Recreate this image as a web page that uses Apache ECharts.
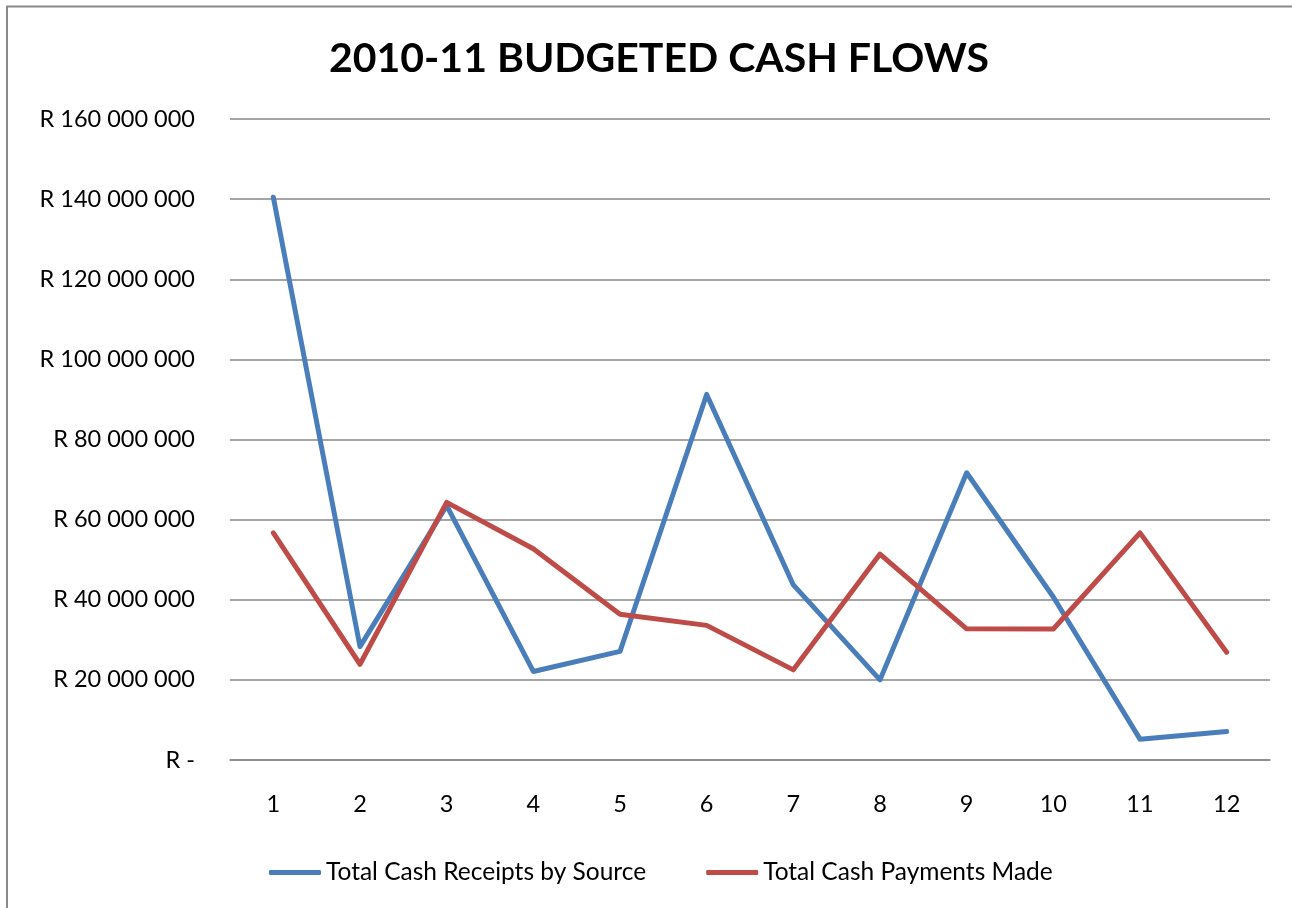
<!DOCTYPE html>
<html>
<head>
<meta charset="utf-8">
<title>2010-11 Budgeted Cash Flows</title>
<script src="https://cdn.jsdelivr.net/npm/echarts@6/dist/echarts.min.js"></script>
<style>
  html, body { margin: 0; padding: 0; background: #ffffff; }
  #chart { width: 1292px; height: 908px; }
</style>
</head>
<body>
<div id="chart"></div>
<script>
// Months of the 2010-11 budget year
const months = ['1', '2', '3', '4', '5', '6', '7', '8', '9', '10', '11', '12'];

// Total cash receipts by source (Rand)
const cashReceipts = [140450000, 28300000, 63500000, 22100000, 27100000, 91250000,
                      43700000, 20000000, 71700000, 40700000, 5200000, 7100000];

// Total cash payments made (Rand)
const cashPayments = [56700000, 23900000, 64300000, 52750000, 36400000, 33600000,
                      22500000, 51400000, 32750000, 32700000, 56700000, 26900000];

// Value axis range and step
const yMin = 0;
const yMax = 160000000;
const yStep = 20000000;

const FONT = 'Lato, "Open Sans", sans-serif';

function randLabel(v) {
  if (v === 0) return 'R -';
  return 'R ' + String(Math.round(v)).replace(/\B(?=(\d{3})+(?!\d))/g, ' ');
}

const chart = echarts.init(document.getElementById('chart'), null, { renderer: 'canvas' });

chart.setOption({
  backgroundColor: '#ffffff',
  animation: false,
  graphic: [
    {
      type: 'polyline',
      shape: { points: [[7, 908], [7, 6.5], [1292, 6.5]] },
      style: { stroke: '#8a8a8a', lineWidth: 2, fill: null },
      silent: true
    }
  ],
  title: {
    text: '2010-11 BUDGETED CASH FLOWS',
    left: 654,
    top: 33,
    textAlign: 'center',
    textStyle: { fontFamily: FONT, fontWeight: 'bold', fontSize: 41, color: '#000000' }
  },
  grid: { left: 230, right: 22, top: 119, bottom: 148, containLabel: false },
  legend: {
    bottom: 18,
    left: 264,
    itemWidth: 52,
    itemHeight: 5,
    itemGap: 60,
    icon: 'roundRect',
    textStyle: { fontFamily: FONT, fontSize: 24.5, color: '#000000' },
    data: ['Total Cash Receipts by Source', 'Total Cash Payments Made']
  },
  xAxis: {
    type: 'category',
    data: months,
    boundaryGap: true,
    axisLine: { show: true, lineStyle: { color: '#878787', width: 1.5 } },
    axisTick: { show: false },
    axisLabel: { fontFamily: FONT, fontSize: 23.5, color: '#000000', margin: 32 },
    splitLine: { show: false }
  },
  yAxis: {
    type: 'value',
    min: yMin,
    max: yMax,
    interval: yStep,
    axisLine: { show: false },
    axisTick: { show: false },
    axisLabel: { fontFamily: FONT, fontSize: 23.5, color: '#000000', margin: 35, formatter: randLabel },
    splitLine: { show: true, lineStyle: { color: '#878787', width: 1.5 } }
  },
  series: [
    {
      name: 'Total Cash Receipts by Source',
      type: 'line',
      data: cashReceipts,
      symbol: 'none',
      color: '#4a7ebb',
      lineStyle: { color: '#4a7ebb', width: 5, cap: 'round', join: 'round' }
    },
    {
      name: 'Total Cash Payments Made',
      type: 'line',
      data: cashPayments,
      symbol: 'none',
      color: '#be4b48',
      lineStyle: { color: '#be4b48', width: 5, cap: 'round', join: 'round' }
    }
  ]
});
</script>
</body>
</html>
